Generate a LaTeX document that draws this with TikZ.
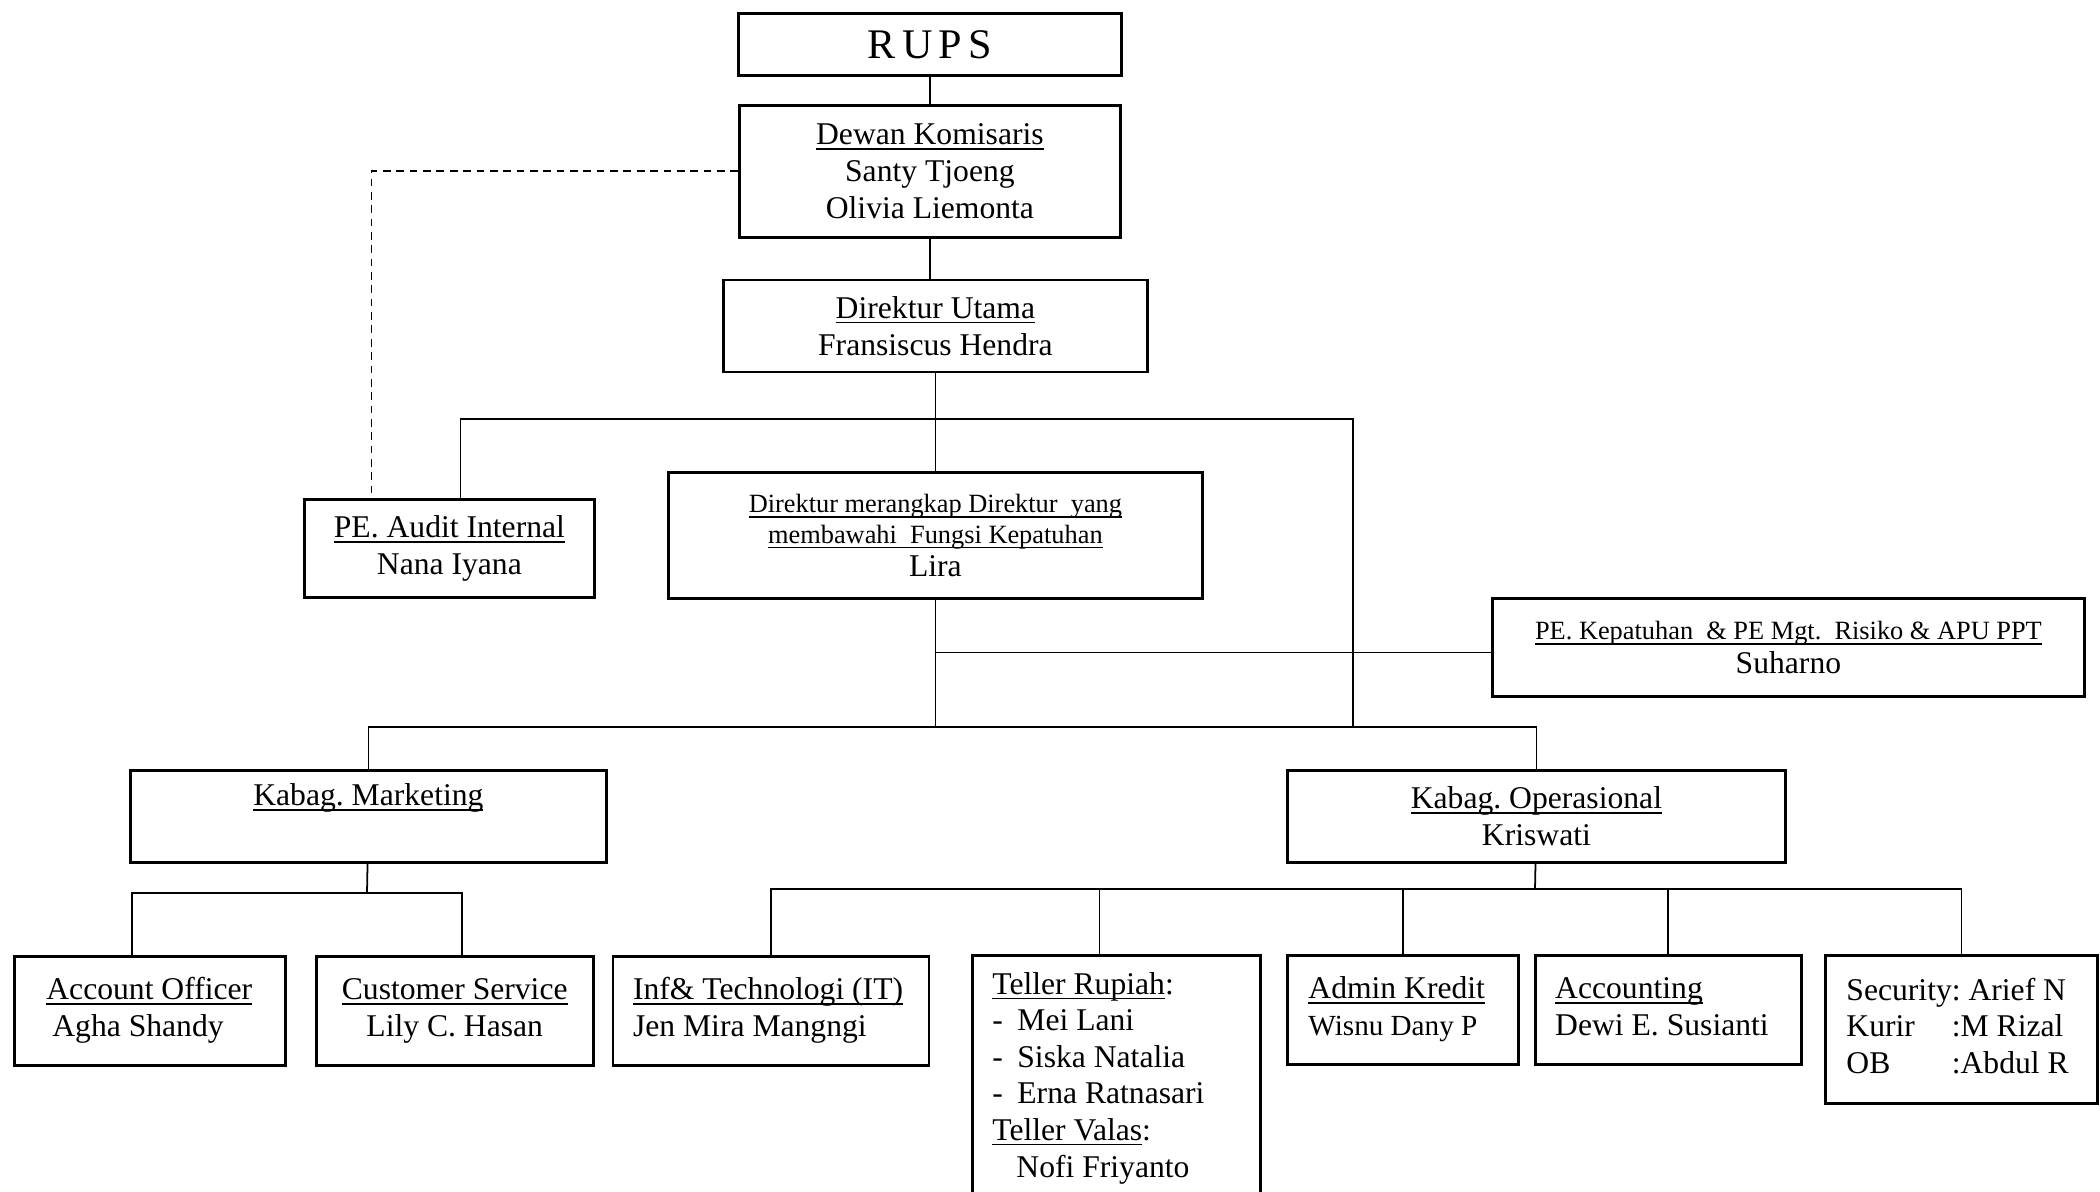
\documentclass[tikz,border=0pt]{standalone}
\usepackage{fontspec}
\setmainfont{Liberation Serif}
\usetikzlibrary{positioning}
\frenchspacing

\newcommand\orgtxt{\fontsize{9}{10.4}\selectfont}
\newcommand\orgsmall{\fontsize{7.5}{8.7}\selectfont}
\newcommand\orgbig{\fontsize{12}{14}\selectfont}
% underline at a fixed depth
\newcommand\ulin[1]{\setbox0=\hbox{#1}\rlap{\rule[-1.4pt]{\wd0}{0.45pt}}\box0}
% left aligned text block of a given width
\newcommand\leftcell[2]{\makebox[#1][l]{\begin{tabular}{@{}l@{}}#2\end{tabular}}}

\begin{document}
\begin{tikzpicture}[x=0.1mm, y=-0.1mm,
    box/.style={draw, line width=0.8pt, inner sep=0pt, font=\orgtxt, align=center},
    link/.style={line width=0.5pt},
    dash link/.style={link, dash pattern=on 2.2pt off 1.6pt}]
  \useasboundingbox (0,0) rectangle (2100,1192);
  \clip (0,0) rectangle (2100,1192);

  % board and directors
  \node[box, anchor=north west, minimum width=38.3mm, minimum height=6.2mm, font=\orgbig] (rups) at (737,12)
    {R\hspace{1.8pt}U\hspace{1.8pt}P\hspace{1.8pt}S};
  \node[box, below=2.7mm of rups, minimum width=38.1mm, minimum height=13.2mm] (dew)
    {\ulin{Dewan Komisaris}\\Santy Tjoeng\\Olivia Liemonta};
  \node[box, below=4mm of dew, xshift=0.55mm, minimum width=42.4mm, minimum height=9.2mm] (diru)
    {\ulin{Direktur Utama}\\Fransiscus Hendra};
  \node[box, below=9.8mm of diru, minimum width=53.4mm, minimum height=12.6mm, font=\orgsmall] (dirk)
    {\ulin{Direktur merangkap Direktur\ \ yang}\\\ulin{membawahi\ \ Fungsi Kepatuhan}\\[0.8pt]{\orgtxt Lira}};
  \node[box, anchor=north west, minimum width=29mm, minimum height=9.8mm] (aud) at (303,498)
    {\ulin{PE. Audit Internal}\\Nana Iyana};
  \node[box, anchor=north west, minimum width=59.2mm, minimum height=9.8mm, font=\orgsmall] (kep) at (1491,597)
    {\ulin{PE. Kepatuhan\ \ \& PE Mgt.\ \ Risiko \& APU PPT}\\[0.8pt]{\orgtxt Suharno}};

  % departments
  \node[box, anchor=north west, minimum width=47.6mm, minimum height=9.2mm] (mkt) at (129,769)
    {\ulin{Kabag. Marketing}\\\phantom{Kg}};
  \node[box, anchor=north west, minimum width=49.8mm, minimum height=9.2mm] (ops) at (1286,769)
    {\ulin{Kabag. Operasional}\\Kriswati};

  % staff
  \node[box, anchor=north west, minimum width=27.1mm, minimum height=10.9mm] (ao) at (13,955)
    {\leftcell{20.7mm}{\ulin{Account Officer}\\\hspace*{0.6mm}Agha Shandy}};
  \node[box, right=2.8mm of ao, minimum width=27.7mm, minimum height=10.9mm] (cs)
    {\ulin{Customer Service}\\Lily C. Hasan};
  \node[box, right=1.7mm of cs, minimum width=31.6mm, minimum height=10.9mm] (it)
    {\leftcell{27.6mm}{\ulin{Inf\& Technologi (IT)}\\Jen Mira Mangngi}};
  \node[box, anchor=north west, minimum width=28.8mm, minimum height=24.6mm] (tel) at (971,954)
    {\leftcell{24.8mm}{\ulin{Teller Rupiah}:\\
      \makebox[2.5mm][l]{-}Mei Lani\\
      \makebox[2.5mm][l]{-}Siska Natalia\\
      \makebox[2.5mm][l]{-}Erna Ratnasari\\
      \ulin{Teller Valas}:\\
      \hspace*{2.4mm}Nofi Friyanto}};
  \node[box, anchor=north west, minimum width=23.1mm, minimum height=10.9mm] (adm) at (1286,954)
    {\leftcell{18.9mm}{\ulin{Admin Kredit}\\{\fontsize{8.3}{10.4}\selectfont Wisnu Dany P}}};
  \node[box, right=1.4mm of adm, minimum width=26.6mm, minimum height=10.9mm] (acc)
    {\leftcell{22.6mm}{\ulin{Accounting}\\Dewi E. Susianti}};
  \node[box, anchor=north west, minimum width=27.2mm, minimum height=14.8mm] (sec) at (1824,954)
    {\leftcell{23mm}{\begin{tabular}{@{}l@{}l@{}}Security&: Arief N\\Kurir&:M Rizal\\OB&:Abdul R\end{tabular}}};

  % connectors
  \coordinate (busA) at (1353,419);
  \coordinate (busB) at (933,727);
  \coordinate (busC) at (367,893);
  \coordinate (busD) at (1535,889);
  \draw[link] (rups) -- (dew);
  \draw[link] (dew.south) -- (dew.south |- diru.north);
  \draw[link] (diru) -- (dirk);
  \draw[link] ([xshift=1.1mm]aud.north) |- (busA) -- (busA |- busB);
  \draw[dash link] (dew.west) -| ([xshift=-7.8mm]aud.north);
  \draw[link] (dirk.south) -- (dirk.south |- busB);
  \draw[link] ([yshift=-0.5mm]kep.west) -- ([yshift=-0.5mm]kep.west -| dirk.south);
  \draw[link] (mkt.north) |- (dirk.south |- busB) -| (ops.north);
  \draw[link] (mkt) -- (busC);
  \draw[link] ([xshift=-1.8mm]ao.north) |- (busC) -| ([xshift=0.75mm]cs.north);
  \draw[link] (ops) -- (busD);
  \draw[link] (it.north) |- (busD) -| (sec.north);
  \draw[link] ([xshift=-1.7mm]tel.north) -- ([xshift=-1.7mm]tel.north |- busD);
  \foreach \n in {adm,acc}
    \draw[link] (\n.north) -- (\n.north |- busD);
\end{tikzpicture}
\end{document}
